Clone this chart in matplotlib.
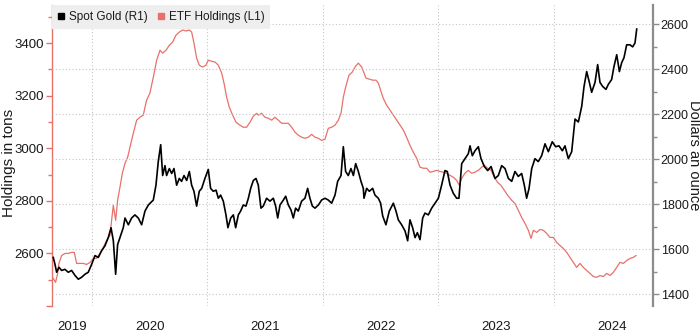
import matplotlib
matplotlib.use('Agg')
import matplotlib.pyplot as plt
from matplotlib.lines import Line2D

plt.rcParams['font.family'] = ['Liberation Sans', 'DejaVu Sans']

# dates as decimal years
gold_t = [
    2019.665, 2019.680, 2019.694, 2019.714, 2019.737, 2019.766, 2019.795, 2019.824, 2019.853, 2019.882,
    2019.911, 2019.939, 2019.968, 2019.997,
    2020.026, 2020.055, 2020.084, 2020.113, 2020.141, 2020.165, 2020.185, 2020.205, 2020.222, 2020.242,
    2020.271, 2020.286, 2020.315, 2020.343, 2020.372, 2020.401, 2020.430, 2020.459, 2020.488,
    2020.531, 2020.554, 2020.574, 2020.595, 2020.612, 2020.632, 2020.646, 2020.670, 2020.690, 2020.710,
    2020.733, 2020.756, 2020.776, 2020.797, 2020.820, 2020.843, 2020.863, 2020.883, 2020.906, 2020.929,
    2020.950, 2020.978,
    2021.007, 2021.027, 2021.050, 2021.074, 2021.094, 2021.114, 2021.137, 2021.160, 2021.177, 2021.201,
    2021.224, 2021.244, 2021.267, 2021.287, 2021.310, 2021.333, 2021.354, 2021.374, 2021.397, 2021.420,
    2021.440,
    2021.463, 2021.483, 2021.512, 2021.541, 2021.570, 2021.590, 2021.608, 2021.628, 2021.657, 2021.677,
    2021.700, 2021.723, 2021.743, 2021.763, 2021.786, 2021.815, 2021.844, 2021.867, 2021.887, 2021.908,
    2021.931, 2021.960, 2021.988,
    2022.017, 2022.046, 2022.075, 2022.104, 2022.127, 2022.156, 2022.176, 2022.196, 2022.219, 2022.242,
    2022.263, 2022.283, 2022.306, 2022.329, 2022.349,
    2022.355, 2022.378, 2022.401, 2022.430, 2022.450, 2022.479, 2022.499, 2022.517, 2022.545, 2022.574,
    2022.609, 2022.632, 2022.652, 2022.681, 2022.710, 2022.733, 2022.753, 2022.776, 2022.797, 2022.817,
    2022.840, 2022.863, 2022.883, 2022.912, 2022.941, 2022.970, 2022.999,
    2023.027, 2023.056, 2023.076, 2023.100, 2023.128, 2023.157, 2023.177, 2023.201, 2023.229, 2023.258,
    2023.273, 2023.293, 2023.316, 2023.345, 2023.368, 2023.397, 2023.426, 2023.455, 2023.489, 2023.518,
    2023.547, 2023.576, 2023.605, 2023.634, 2023.662, 2023.691, 2023.720, 2023.743, 2023.763, 2023.784,
    2023.807, 2023.835, 2023.864, 2023.893, 2023.922, 2023.951, 2023.985,
    2024.014, 2024.043, 2024.072, 2024.095, 2024.124, 2024.153,
    2024.182, 2024.211, 2024.240, 2024.260, 2024.283, 2024.306, 2024.326, 2024.355, 2024.378, 2024.398,
    2024.421, 2024.450, 2024.470, 2024.499, 2024.519, 2024.543, 2024.566, 2024.586, 2024.606, 2024.629,
    2024.658, 2024.681, 2024.701, 2024.716,
]
gold_usd = [
    1563, 1532, 1497, 1519, 1505, 1510, 1497, 1505, 1483, 1466,
    1475, 1488, 1497, 1532,
    1571, 1563, 1593, 1615, 1651, 1695, 1637, 1488, 1620, 1651,
    1695, 1738, 1708, 1738, 1752, 1738, 1708, 1769, 1796,
    1818, 1884, 1989, 2064, 1927, 1971, 1927, 1958, 1936, 1958,
    1884, 1914, 1901, 1927, 1905, 1945, 1884, 1857, 1791, 1857,
    1870, 1914,
    1954, 1870, 1857, 1862, 1826, 1840, 1813, 1752, 1695, 1738,
    1752, 1695, 1752, 1769, 1796, 1791, 1826, 1870, 1905, 1914,
    1884,
    1782, 1791, 1826, 1813, 1826, 1791, 1738, 1796, 1818, 1835,
    1796, 1774, 1738, 1782, 1769, 1813, 1826, 1870, 1826, 1791,
    1782, 1796, 1818,
    1826, 1818, 1804, 1840, 1901, 1927, 2055, 1945, 1927, 1958,
    1927, 1980, 1945, 1901, 1870,
    1826, 1870, 1857, 1870, 1840, 1826, 1804, 1747, 1708, 1769,
    1804, 1769, 1730, 1708, 1681, 1637, 1730, 1695, 1651, 1673,
    1642, 1738, 1760, 1752, 1782, 1804, 1826,
    1884, 1949, 1945, 1884, 1848, 1826, 1826, 1980, 2002, 2024,
    2059, 2015, 2037, 2055, 2002, 1967, 1949, 1967, 1914, 1927,
    1971, 1958, 1914, 1901, 1945, 1923, 1936, 1884, 1826, 1870,
    1958, 2002, 1989, 2015, 2068, 2033, 2077,
    2055, 2059, 2037, 2059, 2002, 2033,
    2178, 2165, 2235, 2323, 2389, 2341, 2297, 2341, 2420, 2341,
    2323, 2310, 2332, 2354, 2411, 2464, 2389, 2429, 2451, 2508,
    2508, 2499, 2516, 2578,
]

etf_t = [
    2019.665, 2019.685, 2019.703, 2019.714, 2019.737, 2019.766, 2019.795, 2019.824, 2019.847, 2019.867,
    2019.896, 2019.925, 2019.954, 2019.983,
    2020.012, 2020.040, 2020.069, 2020.098, 2020.127, 2020.156, 2020.170, 2020.185, 2020.205, 2020.222,
    2020.242, 2020.263, 2020.286, 2020.309, 2020.329, 2020.358, 2020.387, 2020.416, 2020.444, 2020.473,
    2020.502,
    2020.531, 2020.560, 2020.589, 2020.612, 2020.641, 2020.670, 2020.698, 2020.727, 2020.756, 2020.785,
    2020.814, 2020.843, 2020.863, 2020.883, 2020.906, 2020.929, 2020.958, 2020.987,
    2021.007, 2021.036, 2021.065, 2021.094, 2021.123, 2021.143, 2021.166, 2021.189, 2021.218, 2021.247,
    2021.281, 2021.310, 2021.339, 2021.368, 2021.397, 2021.426,
    2021.440, 2021.469, 2021.498, 2021.527, 2021.556, 2021.584, 2021.613, 2021.642, 2021.671, 2021.700,
    2021.729, 2021.758, 2021.786, 2021.815, 2021.844, 2021.873, 2021.902, 2021.931, 2021.960, 2021.988,
    2022.017, 2022.046, 2022.075, 2022.104, 2022.133, 2022.156, 2022.176, 2022.196, 2022.225, 2022.254,
    2022.277, 2022.306, 2022.335,
    2022.372, 2022.401, 2022.430, 2022.459, 2022.479, 2022.499, 2022.522, 2022.551, 2022.580, 2022.609,
    2022.638, 2022.667, 2022.696, 2022.724, 2022.753, 2022.782, 2022.811, 2022.840, 2022.869, 2022.898,
    2022.926, 2022.955, 2022.984,
    2023.013, 2023.042, 2023.071, 2023.100, 2023.128, 2023.157, 2023.180, 2023.201, 2023.229, 2023.258,
    2023.287, 2023.316, 2023.345, 2023.374, 2023.397, 2023.426, 2023.455, 2023.483, 2023.512, 2023.541,
    2023.570, 2023.599, 2023.634, 2023.662, 2023.691, 2023.720, 2023.749, 2023.778, 2023.801, 2023.821,
    2023.850, 2023.879, 2023.908, 2023.937, 2023.965, 2023.994,
    2024.023, 2024.052, 2024.081, 2024.110, 2024.139, 2024.167,
    2024.196, 2024.225, 2024.254, 2024.283, 2024.312, 2024.341, 2024.369, 2024.398, 2024.427, 2024.456,
    2024.485, 2024.514, 2024.543, 2024.571, 2024.600, 2024.629, 2024.658, 2024.687, 2024.710,
]
etf_tons = [
    2505, 2490, 2524, 2562, 2592, 2600, 2600, 2604, 2604, 2562,
    2562, 2562, 2558, 2566,
    2581, 2581, 2600, 2623, 2650, 2669, 2726, 2783, 2726, 2802,
    2851, 2905, 2943, 2966, 3004, 3057, 3107, 3118, 3126, 3183,
    3210,
    3270, 3335, 3373, 3362, 3373, 3392, 3404, 3430, 3442, 3450,
    3446, 3450, 3442, 3400, 3343, 3316, 3309, 3316,
    3335, 3331, 3328, 3316, 3286, 3248, 3194, 3156, 3126, 3099,
    3088, 3080, 3080, 3099, 3122, 3133,
    3126, 3133, 3118, 3114, 3107, 3118, 3107, 3095, 3095, 3095,
    3080, 3061, 3050, 3042, 3038, 3042, 3053, 3042, 3038, 3030,
    3034, 3076, 3080, 3088, 3107, 3133, 3194, 3232, 3278, 3290,
    3309, 3324, 3309,
    3267, 3263, 3259, 3259, 3248, 3221, 3190, 3164, 3145, 3126,
    3107, 3088, 3069, 3042, 3011, 2985, 2962, 2928, 2924, 2924,
    2909, 2912, 2916,
    2912, 2909, 2905, 2897, 2890, 2878, 2859, 2886, 2905, 2916,
    2905, 2909, 2916, 2928, 2935, 2924, 2916, 2890, 2870, 2859,
    2840, 2821, 2802, 2790, 2764, 2737, 2714, 2688, 2657, 2688,
    2680, 2691, 2688, 2676, 2661, 2661,
    2642, 2630, 2619, 2604, 2585, 2566,
    2547, 2562, 2547, 2535, 2524, 2512, 2509, 2516, 2512, 2524,
    2516, 2528, 2547, 2566, 2562, 2573, 2581, 2585, 2592,
]

years = [2019, 2020, 2021, 2022, 2023, 2024]
left_ticks = [2400, 2600, 2800, 3000, 3200, 3400]
right_ticks = [1400, 1600, 1800, 2000, 2200, 2400, 2600]

RED = '#e8716a'
GREY = '#8c8c8c'
TXT = '#1a1a1a'
x0, x1 = 2019.654, 2024.857

fig = plt.figure(figsize=(7, 3.36), dpi=100)
ax = fig.add_axes([52 / 700, 30 / 336, 601 / 700, 301 / 336])
ax2 = ax.twinx()

ax.plot(etf_t, etf_tons, color=RED, lw=0.9)
ax2.plot(gold_t, gold_usd, color='black', lw=1.2)

ax.set_xlim(x0, x1)
ax.set_ylim(2400, 3545)
ax2.set_ylim(1347, 2685)

# left axis (tons)
ax.set_yticks(left_ticks)
ax.set_yticklabels([''] + [str(v) for v in left_ticks[1:]])
ax.set_yticks([v + 100 for v in left_ticks], minor=True)
ax.tick_params(axis='y', which='both', colors=RED, labelcolor=TXT, labelsize=9.5, width=1, pad=2)
ax.tick_params(axis='y', which='major', length=4)
ax.tick_params(axis='y', which='minor', length=3)

# right axis (dollars)
ax2.set_yticks(right_ticks)
ax2.set_yticks([v + 100 for v in right_ticks[:-1]], minor=True)
ax2.tick_params(axis='y', which='both', colors=GREY, labelcolor=TXT, labelsize=9, width=1, pad=1.5)
ax2.tick_params(axis='y', which='major', length=4)
ax2.tick_params(axis='y', which='minor', length=3)

# x axis: year boundaries as gridlines, labels centred in each year
ax.set_xticks(years[1:])
ax.set_xticklabels([])
label_pos = [(x0 + 2020) / 2] + [y + 0.5 for y in years[1:]]
ax.set_xticks(label_pos, minor=True)
ax.set_xticklabels([str(y) for y in years], minor=True)
ax.tick_params(axis='x', which='both', length=0, labelsize=9.5, labelcolor=TXT, pad=11)

ax.grid(axis='x', which='major', color='#c4c4c4', ls=(0, (1, 2)), lw=0.8)
ax2.grid(axis='y', which='major', color='#c4c4c4', ls=(0, (1, 2)), lw=0.8)
ax.set_axisbelow(True)

for a in (ax, ax2):
    a.spines['top'].set_visible(False)
    a.spines['bottom'].set_visible(False)
ax.spines['right'].set_visible(False)
ax2.spines['left'].set_visible(False)
ax.spines['left'].set_color(RED)
ax.spines['left'].set_linewidth(1)
ax2.spines['right'].set_color(GREY)
ax2.spines['right'].set_linewidth(1.6)

fig.text(9 / 700, 1 - 163 / 336, 'Holdings in tons', rotation=90, ha='center', va='center',
         fontsize=11, color=TXT)
fig.text(694 / 700, 1 - 155 / 336, 'Dollars an ounce', rotation=-90, ha='center', va='center',
         fontsize=10.5, color=TXT)

handles = [Line2D([], [], marker='s', ls='none', color='black', markersize=5),
           Line2D([], [], marker='s', ls='none', color=RED, markersize=5)]
leg = ax2.legend(handles, ['Spot Gold (R1)', 'ETF Holdings (L1)'], loc='upper left',
                 bbox_to_anchor=(0, 1), borderaxespad=0, ncol=2, frameon=True,
                 facecolor='#eeeeee', edgecolor='none', fancybox=False, framealpha=1,
                 handlelength=0.6, handletextpad=0.3, columnspacing=0.9, borderpad=0.5,
                 fontsize=8.5)
for t in leg.get_texts():
    t.set_color(TXT)

fig.savefig('out.png', dpi=100)
